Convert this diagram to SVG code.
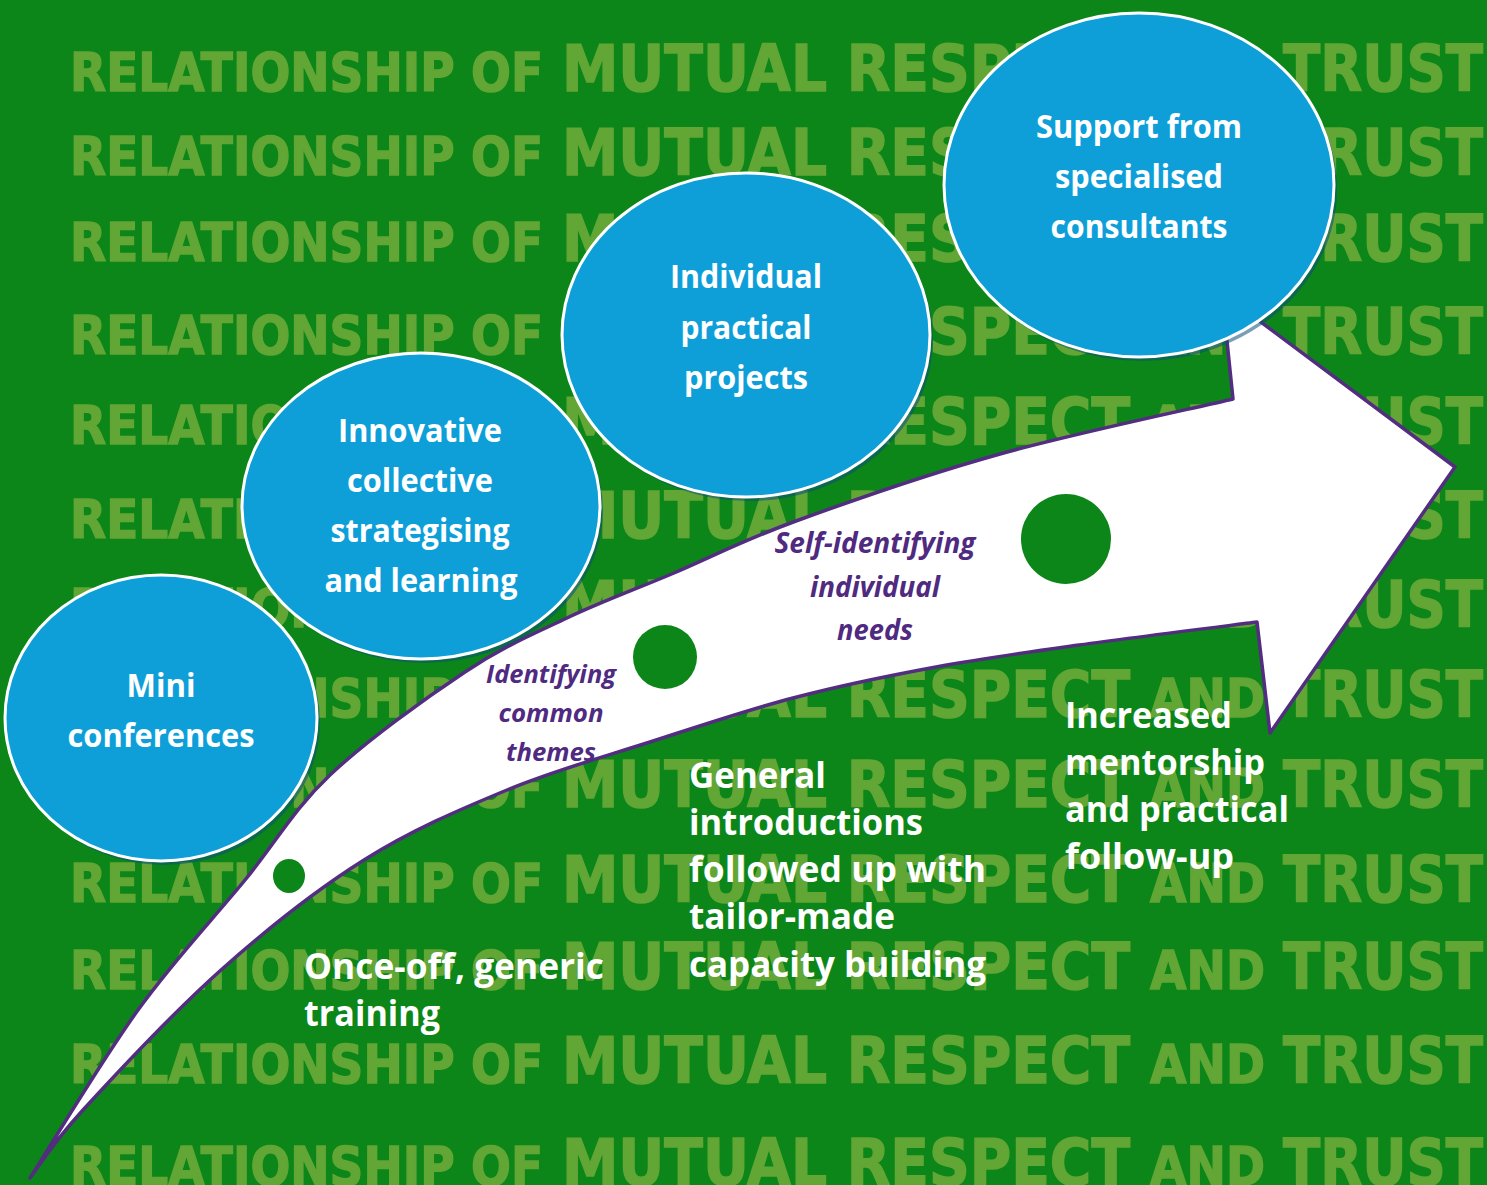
<svg xmlns="http://www.w3.org/2000/svg" xmlns:xlink="http://www.w3.org/1999/xlink" width="1487" height="1185" viewBox="0 0 1487 1185">
  <defs>
    <style>
      .bgt{fill:#62a636;stroke:#62a636;stroke-width:1.5;font-family:"DejaVu Sans","Liberation Sans",sans-serif;font-weight:bold}
      .sm{font-size:53px}
      .lg{font-size:64px}
      .node{fill:#0e9fd9;stroke:#ffffff;stroke-width:3}
      .shadow{fill:#0b4f7a;opacity:.55}
      .nt{fill:#ffffff;font-family:"Open Sans","Noto Sans",sans-serif;font-weight:700;font-size:32px;text-anchor:middle}
      .st{fill:#ffffff;font-family:"Open Sans","Noto Sans",sans-serif;font-weight:700;font-size:36px}
      .it{fill:#4f2a80;font-family:"Open Sans","Noto Sans",sans-serif;font-weight:700;font-style:italic;text-anchor:middle}
      .dot{fill:#0c8618}
      .arrow{fill:#ffffff;stroke:#532d80;stroke-width:3.5;stroke-linejoin:round}
    </style>
    <!-- one line of the repeated slogan, baseline at y=0 -->
    <g id="row">
      <text class="bgt sm" x="70" textLength="473" lengthAdjust="spacingAndGlyphs">RELATIONSHIP OF</text>
      <text class="bgt lg" x="562" textLength="568" lengthAdjust="spacingAndGlyphs">MUTUAL RESPECT</text>
      <text class="bgt sm" x="1150" textLength="115" lengthAdjust="spacingAndGlyphs">AND</text>
      <text class="bgt lg" x="1283" textLength="200" lengthAdjust="spacingAndGlyphs">TRUST</text>
    </g>
  </defs>

  <!-- background -->
  <rect x="0" y="0" width="1487" height="1185" fill="#0c8618"/>
  <g id="background-text">
    <use xlink:href="#row" y="91"/>
    <use xlink:href="#row" y="175"/>
    <use xlink:href="#row" y="261"/>
    <use xlink:href="#row" y="354"/>
    <use xlink:href="#row" y="444"/>
    <use xlink:href="#row" y="538"/>
    <use xlink:href="#row" y="627"/>
    <use xlink:href="#row" y="717"/>
    <use xlink:href="#row" y="807"/>
    <use xlink:href="#row" y="902"/>
    <use xlink:href="#row" y="989"/>
    <use xlink:href="#row" y="1083"/>
    <use xlink:href="#row" y="1185"/>
  </g>

  <!-- curved progress arrow -->
  <g id="connectors">
    <path class="arrow" d="M 30 1178
      C 48 1150, 102.2 1059.7, 138 1010
      C 173.8 960.3, 213 919.2, 245 880
      C 277 840.8, 293.3 809.7, 330 775
      C 366.7 740.3, 425.5 698.2, 465 672
      C 504.5 645.8, 532.2 634.5, 567 618
      C 601.8 601.5, 635.8 589.2, 674 573
      C 712.2 556.8, 741.7 540.8, 796 521
      C 850.3 501.2, 927.2 474.3, 1000 454
      C 1072.8 433.7, 1194.2 408.2, 1233 399
      L 1222 293
      L 1455 467
      L 1270 733
      L 1257 622
      C 1227.3 625.8, 1132.5 637.5, 1079 645
      C 1025.5 652.5, 983.7 658.2, 936 667
      C 888.3 675.8, 840.7 685.5, 793 698
      C 745.3 710.5, 697.7 726.7, 650 742
      C 602.3 757.3, 554.7 770.3, 507 790
      C 459.3 809.7, 411.7 830, 364 860
      C 316.3 890, 267.8 928.3, 221 970
      C 174.2 1011.7, 114.8 1075.3, 83 1110
      C 51.2 1144.7, 38.8 1166.7, 30 1178 Z"/>
  </g>

  <!-- milestones on the arrow -->
  <g id="milestones">
    <ellipse class="dot" cx="289" cy="876" rx="16" ry="17"/>
    <ellipse class="dot" cx="665" cy="657" rx="32" ry="32"/>
    <circle class="dot" cx="1066" cy="539" r="45"/>
  </g>

  <g id="arrow-labels">
    <text class="it" font-size="25"><tspan x="551" y="683" textLength="130" lengthAdjust="spacingAndGlyphs">Identifying</tspan></text>
    <text class="it" font-size="25"><tspan x="551" y="722" textLength="105" lengthAdjust="spacingAndGlyphs">common</tspan></text>
    <text class="it" font-size="25"><tspan x="551" y="761" textLength="90" lengthAdjust="spacingAndGlyphs">themes</tspan></text>
    <text class="it" font-size="28"><tspan x="875" y="553" textLength="201" lengthAdjust="spacingAndGlyphs">Self-identifying</tspan></text>
    <text class="it" font-size="28"><tspan x="875" y="597" textLength="130" lengthAdjust="spacingAndGlyphs">individual</tspan></text>
    <text class="it" font-size="28"><tspan x="875" y="640" textLength="76" lengthAdjust="spacingAndGlyphs">needs</tspan></text>
  </g>

  <!-- stage bubbles -->
  <g id="node-mini-conferences">
    <ellipse class="shadow" cx="164" cy="722" rx="156" ry="143"/>
    <ellipse class="node" cx="161" cy="718" rx="156" ry="143"/>
    <text class="nt" x="161" y="697" textLength="69" lengthAdjust="spacingAndGlyphs">Mini</text>
    <text class="nt" x="161" y="747" textLength="187" lengthAdjust="spacingAndGlyphs">conferences</text>
  </g>

  <g id="node-innovative">
    <ellipse class="shadow" cx="424" cy="510" rx="179" ry="153"/>
    <ellipse class="node" cx="421" cy="506" rx="179" ry="153"/>
    <text class="nt" x="420" y="442" textLength="164" lengthAdjust="spacingAndGlyphs">Innovative</text>
    <text class="nt" x="420" y="492" textLength="146" lengthAdjust="spacingAndGlyphs">collective</text>
    <text class="nt" x="420" y="542" textLength="179" lengthAdjust="spacingAndGlyphs">strategising</text>
    <text class="nt" x="421" y="592" textLength="193" lengthAdjust="spacingAndGlyphs">and learning</text>
  </g>

  <g id="node-individual-projects">
    <ellipse class="shadow" cx="749" cy="339" rx="184" ry="162"/>
    <ellipse class="node" cx="746" cy="335" rx="184" ry="162"/>
    <text class="nt" x="746" y="288" textLength="152" lengthAdjust="spacingAndGlyphs">Individual</text>
    <text class="nt" x="746" y="339" textLength="131" lengthAdjust="spacingAndGlyphs">practical</text>
    <text class="nt" x="746" y="389" textLength="124" lengthAdjust="spacingAndGlyphs">projects</text>
  </g>

  <g id="node-consultants">
    <ellipse class="shadow" cx="1142" cy="189" rx="195" ry="172"/>
    <ellipse class="node" cx="1139" cy="185" rx="195" ry="172"/>
    <text class="nt" x="1139" y="138" textLength="206" lengthAdjust="spacingAndGlyphs">Support from</text>
    <text class="nt" x="1139" y="188" textLength="168" lengthAdjust="spacingAndGlyphs">specialised</text>
    <text class="nt" x="1139" y="238" textLength="177" lengthAdjust="spacingAndGlyphs">consultants</text>
  </g>

  <!-- descriptions under the arrow -->
  <g id="stage-descriptions">
    <text class="st" x="304" y="979" textLength="300" lengthAdjust="spacingAndGlyphs">Once-off, generic</text>
    <text class="st" x="304" y="1026" textLength="136" lengthAdjust="spacingAndGlyphs">training</text>

    <text class="st" x="689" y="788" textLength="137" lengthAdjust="spacingAndGlyphs">General</text>
    <text class="st" x="689" y="835" textLength="234" lengthAdjust="spacingAndGlyphs">introductions</text>
    <text class="st" x="689" y="882" textLength="297" lengthAdjust="spacingAndGlyphs">followed up with</text>
    <text class="st" x="689" y="929" textLength="206" lengthAdjust="spacingAndGlyphs">tailor-made</text>
    <text class="st" x="689" y="977" textLength="297" lengthAdjust="spacingAndGlyphs">capacity building</text>

    <text class="st" x="1065" y="728" textLength="167" lengthAdjust="spacingAndGlyphs">Increased</text>
    <text class="st" x="1065" y="775" textLength="200" lengthAdjust="spacingAndGlyphs">mentorship</text>
    <text class="st" x="1065" y="822" textLength="224" lengthAdjust="spacingAndGlyphs">and practical</text>
    <text class="st" x="1065" y="869" textLength="169" lengthAdjust="spacingAndGlyphs">follow-up</text>
  </g>
</svg>
